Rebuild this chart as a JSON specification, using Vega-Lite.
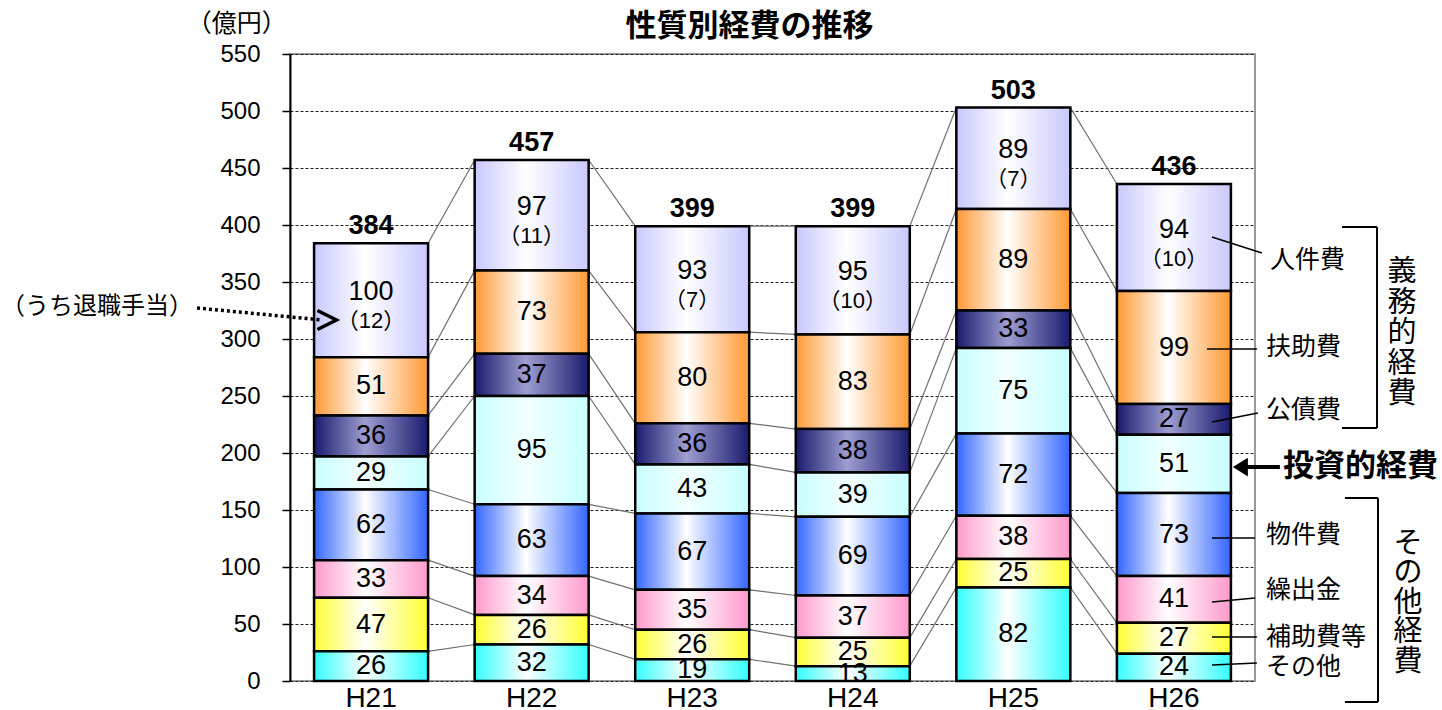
{
  "$schema": "https://vega.github.io/schema/vega-lite/v6.json",
  "width": 965,
  "height": 627,
  "autosize": {"type": "none"},
  "padding": {"left": 290, "top": 54, "right": 187, "bottom": 29},
  "background": "white",
  "config": {
    "view": {"stroke": "#999999", "strokeWidth": 2},
    "axisY": {"labelFont": "Liberation Sans", "labelFontSize": 24, "labelColor": "black", "tickColor": "black", "tickSize": 8, "tickWidth": 1.5, "labelPadding": 22, "domainColor": "black", "domainWidth": 2, "grid": true, "gridColor": "#222222", "gridDash": [3, 2], "gridWidth": 1}
  },
  "datasets": {
    "main": [
      {"year": "H21", "cat": "その他", "n": 1, "v": 26},
      {"year": "H21", "cat": "補助費等", "n": 2, "v": 47},
      {"year": "H21", "cat": "繰出金", "n": 3, "v": 33},
      {"year": "H21", "cat": "物件費", "n": 4, "v": 62},
      {"year": "H21", "cat": "投資的経費", "n": 5, "v": 29},
      {"year": "H21", "cat": "公債費", "n": 6, "v": 36},
      {"year": "H21", "cat": "扶助費", "n": 7, "v": 51},
      {"year": "H21", "cat": "人件費", "n": 8, "v": 100, "ret": 12},
      {"year": "H22", "cat": "その他", "n": 1, "v": 32},
      {"year": "H22", "cat": "補助費等", "n": 2, "v": 26},
      {"year": "H22", "cat": "繰出金", "n": 3, "v": 34},
      {"year": "H22", "cat": "物件費", "n": 4, "v": 63},
      {"year": "H22", "cat": "投資的経費", "n": 5, "v": 95},
      {"year": "H22", "cat": "公債費", "n": 6, "v": 37},
      {"year": "H22", "cat": "扶助費", "n": 7, "v": 73},
      {"year": "H22", "cat": "人件費", "n": 8, "v": 97, "ret": 11},
      {"year": "H23", "cat": "その他", "n": 1, "v": 19},
      {"year": "H23", "cat": "補助費等", "n": 2, "v": 26},
      {"year": "H23", "cat": "繰出金", "n": 3, "v": 35},
      {"year": "H23", "cat": "物件費", "n": 4, "v": 67},
      {"year": "H23", "cat": "投資的経費", "n": 5, "v": 43},
      {"year": "H23", "cat": "公債費", "n": 6, "v": 36},
      {"year": "H23", "cat": "扶助費", "n": 7, "v": 80},
      {"year": "H23", "cat": "人件費", "n": 8, "v": 93, "ret": 7},
      {"year": "H24", "cat": "その他", "n": 1, "v": 13},
      {"year": "H24", "cat": "補助費等", "n": 2, "v": 25},
      {"year": "H24", "cat": "繰出金", "n": 3, "v": 37},
      {"year": "H24", "cat": "物件費", "n": 4, "v": 69},
      {"year": "H24", "cat": "投資的経費", "n": 5, "v": 39},
      {"year": "H24", "cat": "公債費", "n": 6, "v": 38},
      {"year": "H24", "cat": "扶助費", "n": 7, "v": 83},
      {"year": "H24", "cat": "人件費", "n": 8, "v": 95, "ret": 10},
      {"year": "H25", "cat": "その他", "n": 1, "v": 82},
      {"year": "H25", "cat": "補助費等", "n": 2, "v": 25},
      {"year": "H25", "cat": "繰出金", "n": 3, "v": 38},
      {"year": "H25", "cat": "物件費", "n": 4, "v": 72},
      {"year": "H25", "cat": "投資的経費", "n": 5, "v": 75},
      {"year": "H25", "cat": "公債費", "n": 6, "v": 33},
      {"year": "H25", "cat": "扶助費", "n": 7, "v": 89},
      {"year": "H25", "cat": "人件費", "n": 8, "v": 89, "ret": 7},
      {"year": "H26", "cat": "その他", "n": 1, "v": 24},
      {"year": "H26", "cat": "補助費等", "n": 2, "v": 27},
      {"year": "H26", "cat": "繰出金", "n": 3, "v": 41},
      {"year": "H26", "cat": "物件費", "n": 4, "v": 73},
      {"year": "H26", "cat": "投資的経費", "n": 5, "v": 51},
      {"year": "H26", "cat": "公債費", "n": 6, "v": 27},
      {"year": "H26", "cat": "扶助費", "n": 7, "v": 99},
      {"year": "H26", "cat": "人件費", "n": 8, "v": 94, "ret": 10}
    ]
  },
  "resolve": {"scale": {"x": "independent"}, "axis": {"x": "independent"}},
  "layer": [
    {
      "data": {"name": "main"},
      "transform": [
        {"stack": "v", "groupby": ["year"], "sort": [{"field": "n", "order": "ascending"}], "as": ["y0", "y1"]},
        {"calculate": "(datum.y0 + datum.y1) / 2", "as": "mid"},
        {"calculate": "'（' + datum.ret + '）'", "as": "rtxt"}
      ],
      "encoding": {
        "x": {"field": "year", "type": "nominal", "scale": {"paddingInner": 0.29, "paddingOuter": 0.15},
          "axis": {"title": null, "domain": false, "ticks": false, "tickSize": 0, "labelPadding": 3, "labelFont": "Liberation Sans", "labelFontSize": 28, "labelColor": "black", "labelAngle": 0, "grid": false}}
      },
      "layer": [
        {
          "transform": [
            {"window": [{"op": "lead", "field": "year", "as": "ny"}, {"op": "lead", "field": "y1", "as": "ny1"}], "groupby": ["cat"], "sort": [{"field": "year", "order": "ascending"}]},
            {"filter": "datum.ny != null"}
          ],
          "mark": {"type": "rule", "color": "#707070", "strokeWidth": 1.2},
          "encoding": {
            "x": {"field": "year", "type": "nominal", "bandPosition": 1},
            "x2": {"field": "ny", "bandPosition": 0},
            "y": {"field": "y1", "type": "quantitative", "scale": {"domain": [0, 550], "nice": false},
              "axis": {"title": null, "values": [0, 50, 100, 150, 200, 250, 300, 350, 400, 450, 500, 550]}},
            "y2": {"field": "ny1"}
          }
        },
        {
          "transform": [{"filter": "datum.cat === '人件費'"}],
          "mark": {"type": "bar", "stroke": "black", "strokeWidth": 2.5, "fill": {"gradient": "linear", "x1": 0, "x2": 1, "y1": 0, "y2": 0, "stops": [{"offset": 0, "color": "#C8C8FF"}, {"offset": 0.45, "color": "#FFFFFF"}, {"offset": 1, "color": "#C8C8FF"}]}},
          "encoding": {"y": {"field": "y1", "type": "quantitative"}, "y2": {"field": "y0"}}
        },
        {
          "transform": [{"filter": "datum.cat === '扶助費'"}],
          "mark": {"type": "bar", "stroke": "black", "strokeWidth": 2.5, "fill": {"gradient": "linear", "x1": 0, "x2": 1, "y1": 0, "y2": 0, "stops": [{"offset": 0, "color": "#FF9933"}, {"offset": 0.45, "color": "#FFFFFF"}, {"offset": 1, "color": "#FF9933"}]}},
          "encoding": {"y": {"field": "y1", "type": "quantitative"}, "y2": {"field": "y0"}}
        },
        {
          "transform": [{"filter": "datum.cat === '公債費'"}],
          "mark": {"type": "bar", "stroke": "black", "strokeWidth": 2.5, "fill": {"gradient": "linear", "x1": 0, "x2": 1, "y1": 0, "y2": 0, "stops": [{"offset": 0, "color": "#1A1A6E"}, {"offset": 0.45, "color": "#9E9ED2"}, {"offset": 1, "color": "#1A1A6E"}]}},
          "encoding": {"y": {"field": "y1", "type": "quantitative"}, "y2": {"field": "y0"}}
        },
        {
          "transform": [{"filter": "datum.cat === '投資的経費'"}],
          "mark": {"type": "bar", "stroke": "black", "strokeWidth": 2.5, "fill": {"gradient": "linear", "x1": 0, "x2": 1, "y1": 0, "y2": 0, "stops": [{"offset": 0, "color": "#C8FFFF"}, {"offset": 0.45, "color": "#F2FFFF"}, {"offset": 1, "color": "#C8FFFF"}]}},
          "encoding": {"y": {"field": "y1", "type": "quantitative"}, "y2": {"field": "y0"}}
        },
        {
          "transform": [{"filter": "datum.cat === '物件費'"}],
          "mark": {"type": "bar", "stroke": "black", "strokeWidth": 2.5, "fill": {"gradient": "linear", "x1": 0, "x2": 1, "y1": 0, "y2": 0, "stops": [{"offset": 0, "color": "#3366FF"}, {"offset": 0.45, "color": "#FFFFFF"}, {"offset": 1, "color": "#3366FF"}]}},
          "encoding": {"y": {"field": "y1", "type": "quantitative"}, "y2": {"field": "y0"}}
        },
        {
          "transform": [{"filter": "datum.cat === '繰出金'"}],
          "mark": {"type": "bar", "stroke": "black", "strokeWidth": 2.5, "fill": {"gradient": "linear", "x1": 0, "x2": 1, "y1": 0, "y2": 0, "stops": [{"offset": 0, "color": "#FF99CC"}, {"offset": 0.45, "color": "#FFFFFF"}, {"offset": 1, "color": "#FF99CC"}]}},
          "encoding": {"y": {"field": "y1", "type": "quantitative"}, "y2": {"field": "y0"}}
        },
        {
          "transform": [{"filter": "datum.cat === '補助費等'"}],
          "mark": {"type": "bar", "stroke": "black", "strokeWidth": 2.5, "fill": {"gradient": "linear", "x1": 0, "x2": 1, "y1": 0, "y2": 0, "stops": [{"offset": 0, "color": "#FFFF33"}, {"offset": 0.45, "color": "#FFFFFF"}, {"offset": 1, "color": "#FFFF33"}]}},
          "encoding": {"y": {"field": "y1", "type": "quantitative"}, "y2": {"field": "y0"}}
        },
        {
          "transform": [{"filter": "datum.cat === 'その他'"}],
          "mark": {"type": "bar", "stroke": "black", "strokeWidth": 2.5, "fill": {"gradient": "linear", "x1": 0, "x2": 1, "y1": 0, "y2": 0, "stops": [{"offset": 0, "color": "#33FFFF"}, {"offset": 0.45, "color": "#FFFFFF"}, {"offset": 1, "color": "#33FFFF"}]}},
          "encoding": {"y": {"field": "y1", "type": "quantitative"}, "y2": {"field": "y0"}}
        },
        {
          "transform": [{"filter": "datum.cat !== '人件費'"}],
          "mark": {"type": "text", "font": "Liberation Sans", "fontSize": 27, "color": "black", "baseline": "middle", "align": "center"},
          "encoding": {"y": {"field": "mid", "type": "quantitative"}, "text": {"field": "v", "type": "quantitative"}}
        },
        {
          "transform": [{"filter": "datum.cat === '人件費'"}],
          "mark": {"type": "text", "font": "Liberation Sans", "fontSize": 27, "color": "black", "baseline": "middle", "align": "center", "dy": -8},
          "encoding": {"y": {"field": "mid", "type": "quantitative"}, "text": {"field": "v", "type": "quantitative"}}
        },
        {
          "transform": [{"filter": "datum.cat === '人件費'"}],
          "mark": {"type": "text", "font": "Liberation Sans, Noto Sans CJK JP, sans-serif", "fontSize": 22, "color": "black", "baseline": "middle", "align": "center", "dy": 21},
          "encoding": {"y": {"field": "mid", "type": "quantitative"}, "text": {"field": "rtxt", "type": "nominal"}}
        },
        {
          "transform": [{"filter": "datum.cat === '人件費'"}],
          "mark": {"type": "text", "font": "Liberation Sans", "fontSize": 27, "fontWeight": "bold", "color": "black", "baseline": "bottom", "align": "center", "dy": -3},
          "encoding": {"y": {"field": "y1", "type": "quantitative"}, "text": {"field": "y1", "type": "quantitative"}}
        }
      ]
    },
    {
      "data": {"values": [{}]},
      "layer": [
        {"mark": {"type": "rule", "color": "black", "strokeWidth": 1.5},
          "encoding": {"x": {"datum": 5.237, "type": "quantitative", "scale": {"domain": [-0.505, 5.505], "nice": false, "zero": false}, "axis": null}, "x2": {"datum": 5.548}, "y": {"datum": 389.5, "type": "quantitative"}, "y2": {"datum": 375.4}}},
        {"mark": {"type": "rule", "color": "black", "strokeWidth": 1.5},
          "encoding": {"x": {"datum": 5.206, "type": "quantitative", "axis": null}, "x2": {"datum": 5.517}, "y": {"datum": 291.2, "type": "quantitative"}, "y2": {"datum": 291.2}}},
        {"mark": {"type": "rule", "color": "black", "strokeWidth": 1.5},
          "encoding": {"x": {"datum": 5.237, "type": "quantitative", "axis": null}, "x2": {"datum": 5.523}, "y": {"datum": 227.2, "type": "quantitative"}, "y2": {"datum": 235.1}}},
        {"mark": {"type": "rule", "color": "black", "strokeWidth": 1.5},
          "encoding": {"x": {"datum": 5.237, "type": "quantitative", "axis": null}, "x2": {"datum": 5.505}, "y": {"datum": 125.4, "type": "quantitative"}, "y2": {"datum": 125.4}}},
        {"mark": {"type": "rule", "color": "black", "strokeWidth": 1.5},
          "encoding": {"x": {"datum": 5.237, "type": "quantitative", "axis": null}, "x2": {"datum": 5.505}, "y": {"datum": 69.3, "type": "quantitative"}, "y2": {"datum": 72.8}}},
        {"mark": {"type": "rule", "color": "black", "strokeWidth": 1.5},
          "encoding": {"x": {"datum": 5.237, "type": "quantitative", "axis": null}, "x2": {"datum": 5.517}, "y": {"datum": 38.6, "type": "quantitative"}, "y2": {"datum": 38.6}}},
        {"mark": {"type": "rule", "color": "black", "strokeWidth": 1.5},
          "encoding": {"x": {"datum": 5.237, "type": "quantitative", "axis": null}, "x2": {"datum": 5.517}, "y": {"datum": 14.0, "type": "quantitative"}, "y2": {"datum": 15.8}}},
        {"mark": {"type": "rule", "color": "black", "strokeWidth": 4},
          "encoding": {"x": {"datum": 5.45, "type": "quantitative", "axis": null}, "x2": {"datum": 5.66}, "y": {"datum": 187.7, "type": "quantitative"}, "y2": {"datum": 187.7}}},
        {"mark": {"type": "point", "shape": "M-1,0L1,-1.25L1,1.25Z", "filled": true, "color": "black", "opacity": 1, "size": 225},
          "encoding": {"x": {"datum": 5.414, "type": "quantitative", "axis": null}, "y": {"datum": 187.7, "type": "quantitative"}}},
        {"mark": {"type": "rule", "color": "black", "strokeWidth": 2},
          "encoding": {"x": {"datum": 6.265, "type": "quantitative", "axis": null}, "y": {"datum": 398.2, "type": "quantitative"}, "y2": {"datum": 221.9}}},
        {"mark": {"type": "rule", "color": "black", "strokeWidth": 2},
          "encoding": {"x": {"datum": 6.047, "type": "quantitative", "axis": null}, "x2": {"datum": 6.265}, "y": {"datum": 398.2, "type": "quantitative"}}},
        {"mark": {"type": "rule", "color": "black", "strokeWidth": 2},
          "encoding": {"x": {"datum": 6.047, "type": "quantitative", "axis": null}, "x2": {"datum": 6.265}, "y": {"datum": 221.9, "type": "quantitative"}}},
        {"mark": {"type": "rule", "color": "black", "strokeWidth": 2},
          "encoding": {"x": {"datum": 6.271, "type": "quantitative", "axis": null}, "y": {"datum": 160.5, "type": "quantitative"}, "y2": {"datum": -18.4}}},
        {"mark": {"type": "rule", "color": "black", "strokeWidth": 2},
          "encoding": {"x": {"datum": 6.065, "type": "quantitative", "axis": null}, "x2": {"datum": 6.271}, "y": {"datum": 160.5, "type": "quantitative"}}},
        {"mark": {"type": "rule", "color": "black", "strokeWidth": 2},
          "encoding": {"x": {"datum": 6.065, "type": "quantitative", "axis": null}, "x2": {"datum": 6.271}, "y": {"datum": -18.4, "type": "quantitative"}}},
        {"mark": {"type": "rule", "color": "black", "strokeWidth": 3.5, "strokeDash": [3, 3]},
          "encoding": {"x": {"datum": -1.084, "type": "quantitative", "axis": null}, "x2": {"datum": -0.306}, "y": {"datum": 327.2, "type": "quantitative"}, "y2": {"datum": 316.7}}},
        {"mark": {"type": "point", "shape": "M-1,-1L1,0L-1,1", "filled": false, "stroke": "black", "strokeWidth": 3.5, "opacity": 1, "size": 361},
          "encoding": {"x": {"datum": -0.275, "type": "quantitative", "axis": null}, "y": {"datum": 316.7, "type": "quantitative"}}},
        {"mark": {"type": "text", "text": "性質別経費の推移", "font": "Noto Sans CJK JP", "fontSize": 31, "fontWeight": "bold", "color": "black", "align": "center", "baseline": "middle"},
          "encoding": {"x": {"datum": 2.357, "type": "quantitative", "axis": null}, "y": {"datum": 574.1, "type": "quantitative"}}},
        {"mark": {"type": "text", "text": "（億円）", "font": "Noto Sans CJK JP", "fontSize": 25, "color": "black", "align": "right", "baseline": "middle"},
          "encoding": {"x": {"datum": -0.525, "type": "quantitative", "axis": null}, "y": {"datum": 576.3, "type": "quantitative"}}},
        {"mark": {"type": "text", "text": "人件費", "font": "Noto Sans CJK JP", "fontSize": 25, "color": "black", "align": "left", "baseline": "middle"},
          "encoding": {"x": {"datum": 5.598, "type": "quantitative", "axis": null}, "y": {"datum": 369.3, "type": "quantitative"}}},
        {"mark": {"type": "text", "text": "扶助費", "font": "Noto Sans CJK JP", "fontSize": 25, "color": "black", "align": "left", "baseline": "middle"},
          "encoding": {"x": {"datum": 5.573, "type": "quantitative", "axis": null}, "y": {"datum": 293, "type": "quantitative"}}},
        {"mark": {"type": "text", "text": "公債費", "font": "Noto Sans CJK JP", "fontSize": 25, "color": "black", "align": "left", "baseline": "middle"},
          "encoding": {"x": {"datum": 5.573, "type": "quantitative", "axis": null}, "y": {"datum": 237.7, "type": "quantitative"}}},
        {"mark": {"type": "text", "text": "物件費", "font": "Noto Sans CJK JP", "fontSize": 25, "color": "black", "align": "left", "baseline": "middle"},
          "encoding": {"x": {"datum": 5.573, "type": "quantitative", "axis": null}, "y": {"datum": 128, "type": "quantitative"}}},
        {"mark": {"type": "text", "text": "繰出金", "font": "Noto Sans CJK JP", "fontSize": 25, "color": "black", "align": "left", "baseline": "middle"},
          "encoding": {"x": {"datum": 5.573, "type": "quantitative", "axis": null}, "y": {"datum": 79.8, "type": "quantitative"}}},
        {"mark": {"type": "text", "text": "補助費等", "font": "Noto Sans CJK JP", "fontSize": 25, "color": "black", "align": "left", "baseline": "middle"},
          "encoding": {"x": {"datum": 5.573, "type": "quantitative", "axis": null}, "y": {"datum": 38.6, "type": "quantitative"}}},
        {"mark": {"type": "text", "text": "その他", "font": "Noto Sans CJK JP", "fontSize": 25, "color": "black", "align": "left", "baseline": "middle"},
          "encoding": {"x": {"datum": 5.573, "type": "quantitative", "axis": null}, "y": {"datum": 12.3, "type": "quantitative"}}},
        {"mark": {"type": "text", "text": "投資的経費", "font": "Noto Sans CJK JP", "fontSize": 31, "fontWeight": "bold", "color": "black", "align": "left", "baseline": "middle"},
          "encoding": {"x": {"datum": 5.679, "type": "quantitative", "axis": null}, "y": {"datum": 187.7, "type": "quantitative"}}},
        {"mark": {"type": "text", "text": "義\n務\n的\n経\n費", "lineBreak": "\n", "lineHeight": 30.6, "font": "Noto Sans CJK JP", "fontSize": 29, "color": "black", "align": "center", "baseline": "top"},
          "encoding": {"x": {"datum": 6.42, "type": "quantitative", "axis": null}, "y": {"datum": 371, "type": "quantitative"}}},
        {"mark": {"type": "text", "text": "そ\nの\n他\n経\n費", "lineBreak": "\n", "lineHeight": 29.4, "font": "Noto Sans CJK JP", "fontSize": 29, "color": "black", "align": "center", "baseline": "top"},
          "encoding": {"x": {"datum": 6.458, "type": "quantitative", "axis": null}, "y": {"datum": 132.5, "type": "quantitative"}}},
        {"mark": {"type": "text", "text": "（うち退職手当）", "font": "Noto Sans CJK JP", "fontSize": 24, "color": "black", "align": "right", "baseline": "middle"},
          "encoding": {"x": {"datum": -1.109, "type": "quantitative", "axis": null}, "y": {"datum": 328, "type": "quantitative"}}}
      ]
    }
  ]
}
